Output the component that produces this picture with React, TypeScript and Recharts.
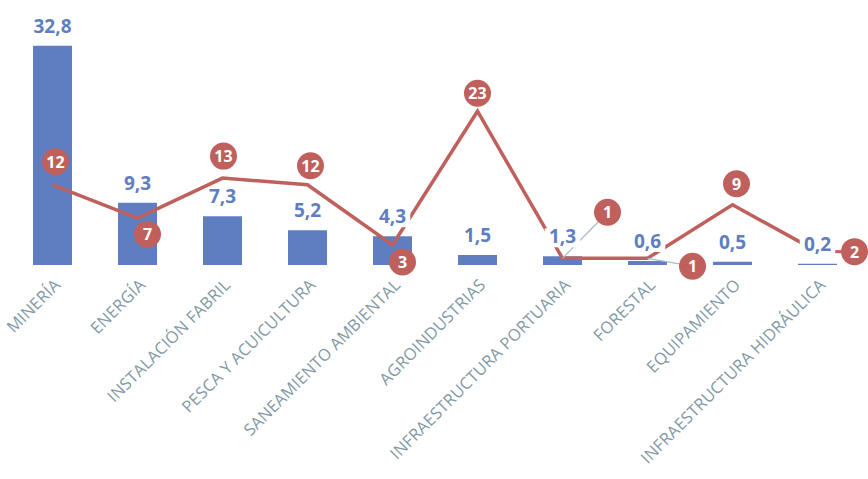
import React from "react";
import { ComposedChart, Bar, Line, XAxis, YAxis, LabelList } from "recharts";

// Sectores (eje X)
const categories = [
  "MINERÍA",
  "ENERGÍA",
  "INSTALACIÓN FABRIL",
  "PESCA Y ACUICULTURA",
  "SANEAMIENTO AMBIENTAL",
  "AGROINDUSTRIAS",
  "INFRAESTRUCTURA PORTUARIA",
  "FORESTAL",
  "EQUIPAMIENTO",
  "INFRAESTRUCTURA HIDRÁULICA",
];

// Monto (barras)
const montos = [32.8, 9.3, 7.3, 5.2, 4.3, 1.5, 1.3, 0.6, 0.5, 0.2];

// Número de proyectos (línea)
const proyectos = [12, 7, 13, 12, 3, 23, 1, 1, 9, 2];

const data = categories.map((cat, i) => ({
  cat,
  monto: montos[i],
  proyectos: proyectos[i],
}));

const BLUE = "#5E7EC1";
const RED = "#C0605C";
const GREY = "#8299A5";
const FONT = "'Open Sans', sans-serif";

// where each red bubble sits relative to its point (manual, like in Excel)
const bubbleOffsets: [number, number][] = [
  [3, -23],
  [10, 16],
  [1, -22],
  [3, -19],
  [10, 17],
  [0, -18],
  [45, -46],
  [45, 8],
  [4, -21],
  [37, 0],
];
// bubbles with a leader line back to the point
const leaders: Record<number, string> = { 6: "#A9BCC4", 7: "#A9BCC4", 9: RED };

const fmt = (v: number) => String(v).replace(".", ",");

const AxisTick = ({ x, y, payload }: any) => (
  <g transform={`translate(${x + 9},${y + 13})`}>
    <text
      transform="rotate(-45)"
      textAnchor="end"
      fill={GREY}
      fontSize={16.5}
      letterSpacing={0.2}
      fontFamily={FONT}
    >
      {payload.value}
    </text>
  </g>
);

const BarValueLabel = ({ x, y, value }: any) => {
  const txt = fmt(value);
  const w = txt.length * 10.5;
  const base = y - 13;
  return (
    <g>
      <rect x={x - w / 2 - 2} y={base - 15} width={w + 4} height={19} fill="#fff" />
      <text
        x={x}
        y={base}
        textAnchor="middle"
        fill={BLUE}
        fontSize={19}
        fontWeight={700}
        fontFamily={FONT}
      >
        {txt}
      </text>
    </g>
  );
};

const Bubble = ({ x, y, value, index }: any) => {
  const [dx, dy] = bubbleOffsets[index] || [0, -20];
  const cx = x + dx;
  const cy = y + dy;
  const r = 13.5;
  const lc = leaders[index];
  let leader = null;
  if (lc) {
    const len = Math.hypot(dx, dy);
    const ex = cx - (dx / len) * r;
    const ey = cy - (dy / len) * r;
    leader = (
      <line
        x1={x}
        y1={y}
        x2={ex}
        y2={ey}
        stroke={lc}
        strokeWidth={lc === RED ? 3 : 1.2}
      />
    );
  }
  return (
    <g>
      {leader}
      <circle cx={cx} cy={cy} r={r} fill={RED} />
      <text
        x={cx}
        y={cy + 6}
        textAnchor="middle"
        fill="#fff"
        fontSize={16}
        fontWeight={700}
        fontFamily={FONT}
      >
        {value}
      </text>
    </g>
  );
};

export default function App() {
  return (
    <div style={{ position: "absolute", left: 0, top: 0, width: 868, height: 479, background: "#fff" }}>
      <ComposedChart
        width={868}
        height={479}
        data={data}
        margin={{ top: 31, right: 8, left: 10, bottom: 0 }}
      >
        <XAxis
          dataKey="cat"
          axisLine={false}
          tickLine={false}
          interval={0}
          height={214}
          tick={<AxisTick />}
        />
        <YAxis hide domain={[0, 35]} />
        <Bar dataKey="monto" fill={BLUE} barSize={39} isAnimationActive={false} />
        <Line
          type="linear"
          dataKey="proyectos"
          stroke={RED}
          strokeWidth={3.5}
          dot={false}
          activeDot={false}
          isAnimationActive={false}
        >
          <LabelList dataKey="proyectos" content={<Bubble />} />
        </Line>
        {/* invisible series only used to put the bar values above the red line */}
        <Line
          dataKey="monto"
          stroke="none"
          dot={false}
          activeDot={false}
          legendType="none"
          isAnimationActive={false}
        >
          <LabelList dataKey="monto" content={<BarValueLabel />} />
        </Line>
      </ComposedChart>
    </div>
  );
}
